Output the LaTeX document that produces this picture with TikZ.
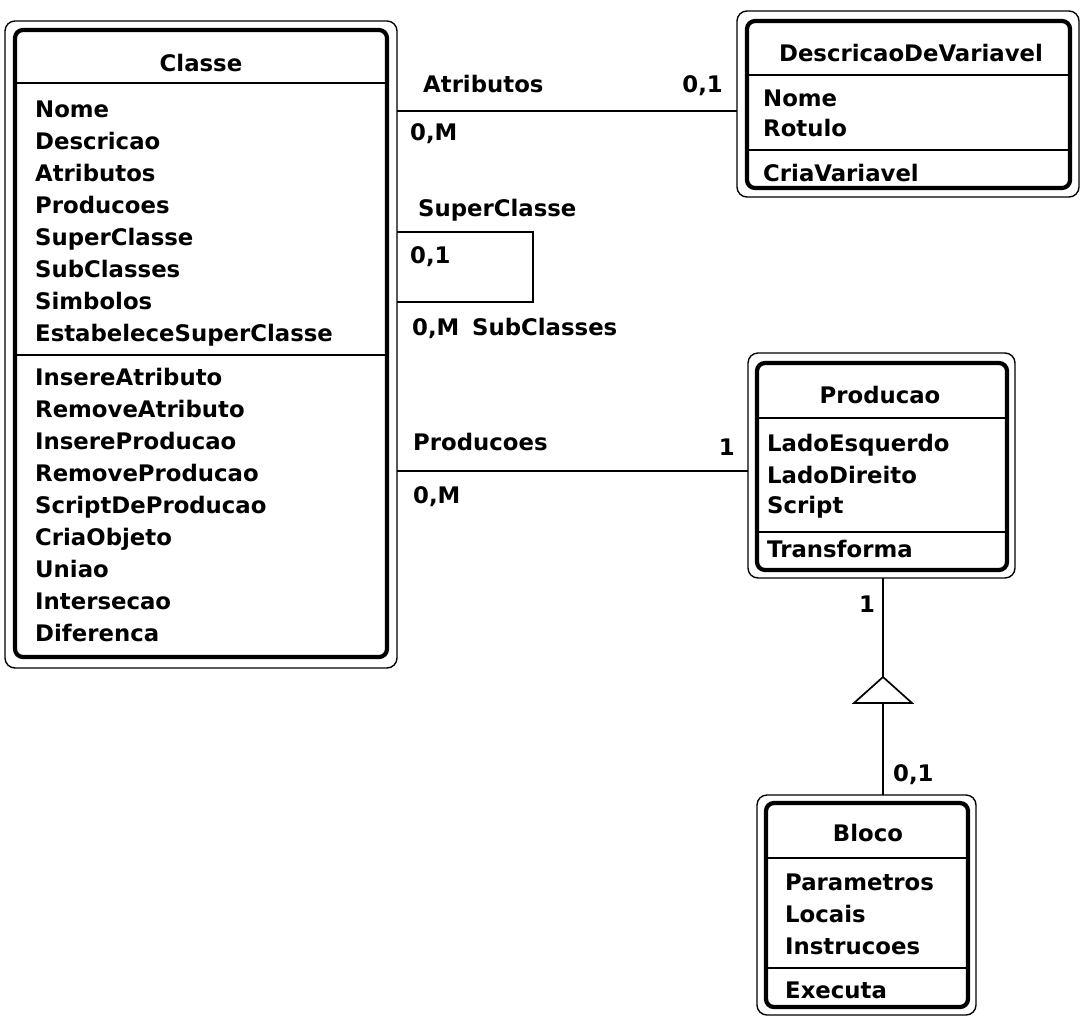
\documentclass[tikz,border=0pt]{standalone}
\usepackage{fontspec}
\setmainfont{DejaVu Sans}
\begin{document}
\begin{tikzpicture}[x=1pt,y=-1pt,
  txt/.style={font=\fontsize{22.8}{27}\selectfont\bfseries, inner sep=0pt, anchor=base west},
  ttl/.style={txt, anchor=base},
  panel/.style={draw, line width=4.2pt, rounded corners=8pt, inner sep=0pt, outer sep=0pt},
  frame/.style={draw, line width=1.4pt, rounded corners=10pt, inner sep=0pt, outer sep=0pt},
  sep/.style={line width=1.5pt},
  link/.style={line width=1.7pt}]
\useasboundingbox (0,0) rectangle (1081,1018);

% ---------- Classe ----------
\node[frame, minimum width=392pt, minimum height=647pt] (classeF) at (201,344.5) {};
\node[panel, minimum width=372pt, minimum height=627pt] (classe) at (201,343.5) {};
\node[ttl] (classeT) at (201,71) {Classe};
\draw[sep] (classe.west |- 0,83) -- (classe.east |- 0,83);
\foreach \t [count=\i from 0] in {Nome,Descricao,Atributos,Producoes,SuperClasse,SubClasses,Simbolos,EstabeleceSuperClasse}
  \node[txt] (classeA\i) at (35,{117+32*\i}) {\t};
\draw[sep] (classe.west |- 0,355) -- (classe.east |- 0,355);
\foreach \t [count=\i from 0] in {InsereAtributo,RemoveAtributo,InsereProducao,RemoveProducao,ScriptDeProducao,CriaObjeto,Uniao,Intersecao,Diferenca}
  \node[txt] (classeM\i) at (35,{385+32*\i}) {\t};

% ---------- DescricaoDeVariavel ----------
\node[frame, minimum width=342pt, minimum height=186pt] (descF) at (908,104) {};
\node[panel, minimum width=323pt, minimum height=167pt] (desc) at (908.5,104.5) {};
\node[ttl] (descT) at (911,61) {DescricaoDeVariavel};
\draw[sep] (desc.west |- 0,75) -- (desc.east |- 0,75);
\node[txt] (descA0) at (763,106) {Nome};
\node[txt] (descA1) at (763,136) {Rotulo};
\draw[sep] (desc.west |- 0,150) -- (desc.east |- 0,150);
\node[txt] (descM0) at (763,181) {CriaVariavel};

% ---------- Producao ----------
\node[frame, minimum width=267pt, minimum height=225pt] (prodF) at (881.5,465.5) {};
\node[panel, minimum width=250pt, minimum height=207pt] (prod) at (882,466.5) {};
\node[ttl] (prodT) at (880,403) {Producao};
\draw[sep] (prod.west |- 0,418) -- (prod.east |- 0,418);
\node[txt] (prodA0) at (767,451) {LadoEsquerdo};
\node[txt] (prodA1) at (767,483) {LadoDireito};
\node[txt] (prodA2) at (767,513) {Script};
\draw[sep] (prod.west |- 0,532) -- (prod.east |- 0,532);
\node[txt] (prodM0) at (767,557) {Transforma};

% ---------- Bloco ----------
\node[frame, minimum width=219pt, minimum height=220pt] (blocoF) at (866.5,905) {};
\node[panel, minimum width=202pt, minimum height=204pt] (bloco) at (867,905) {};
\node[ttl] (blocoT) at (868,841) {Bloco};
\draw[sep] (bloco.west |- 0,858) -- (bloco.east |- 0,858);
\node[txt] (blocoA0) at (785,890) {Parametros};
\node[txt] (blocoA1) at (785,922) {Locais};
\node[txt] (blocoA2) at (785,954) {Instrucoes};
\draw[sep] (bloco.west |- 0,968) -- (bloco.east |- 0,968);
\node[txt] (blocoM0) at (785,998) {Executa};

% ---------- Atributos association ----------
\draw[link] (classeF.east |- 0,111) -- (descF.west |- 0,111);
\node[txt] (lAtr) at (423,92) {Atributos};
\node[txt, anchor=base east] (lAtr01) at (723,92) {0,1};
\node[txt] (lAtr0M) at (410,140) {0,M};

% ---------- SuperClasse / SubClasses self association ----------
\coordinate (loop) at (533,0);
\draw[link] (classeF.east |- 0,232) -- (loop |- 0,232) -- (loop |- 0,302) -- (classeF.east |- 0,302);
\node[txt] (lSup) at (418,216) {SuperClasse};
\node[txt] (lSup01) at (410,263) {0,1};
\node[txt] (lSub0M) at (412,335) {0,M};
\node[txt] (lSub) at (472,335) {SubClasses};

% ---------- Producoes association ----------
\draw[link] (classeF.east |- 0,471) -- (prodF.west |- 0,471);
\node[txt] (lProd) at (413,450) {Producoes};
\node[txt, anchor=base east] (lProd1) at (735,455) {1};
\node[txt] (lProd0M) at (413,503) {0,M};

% ---------- Generalization Producao <- Bloco ----------
\coordinate (gen) at (883,0);
\coordinate (triTop) at (883,677);
\coordinate (triBase) at (883,703);
\draw[link] (prodF.south -| gen) -- (triTop);
\draw[link, line join=miter] (triTop) -- ++(-29,26) -- ++(58,0) -- cycle;
\draw[link] (triBase) -- (blocoF.north -| gen);
\node[txt] (lGen1) at (859,612) {1};
\node[txt] (lGen01) at (893,781) {0,1};
\end{tikzpicture}
\end{document}
